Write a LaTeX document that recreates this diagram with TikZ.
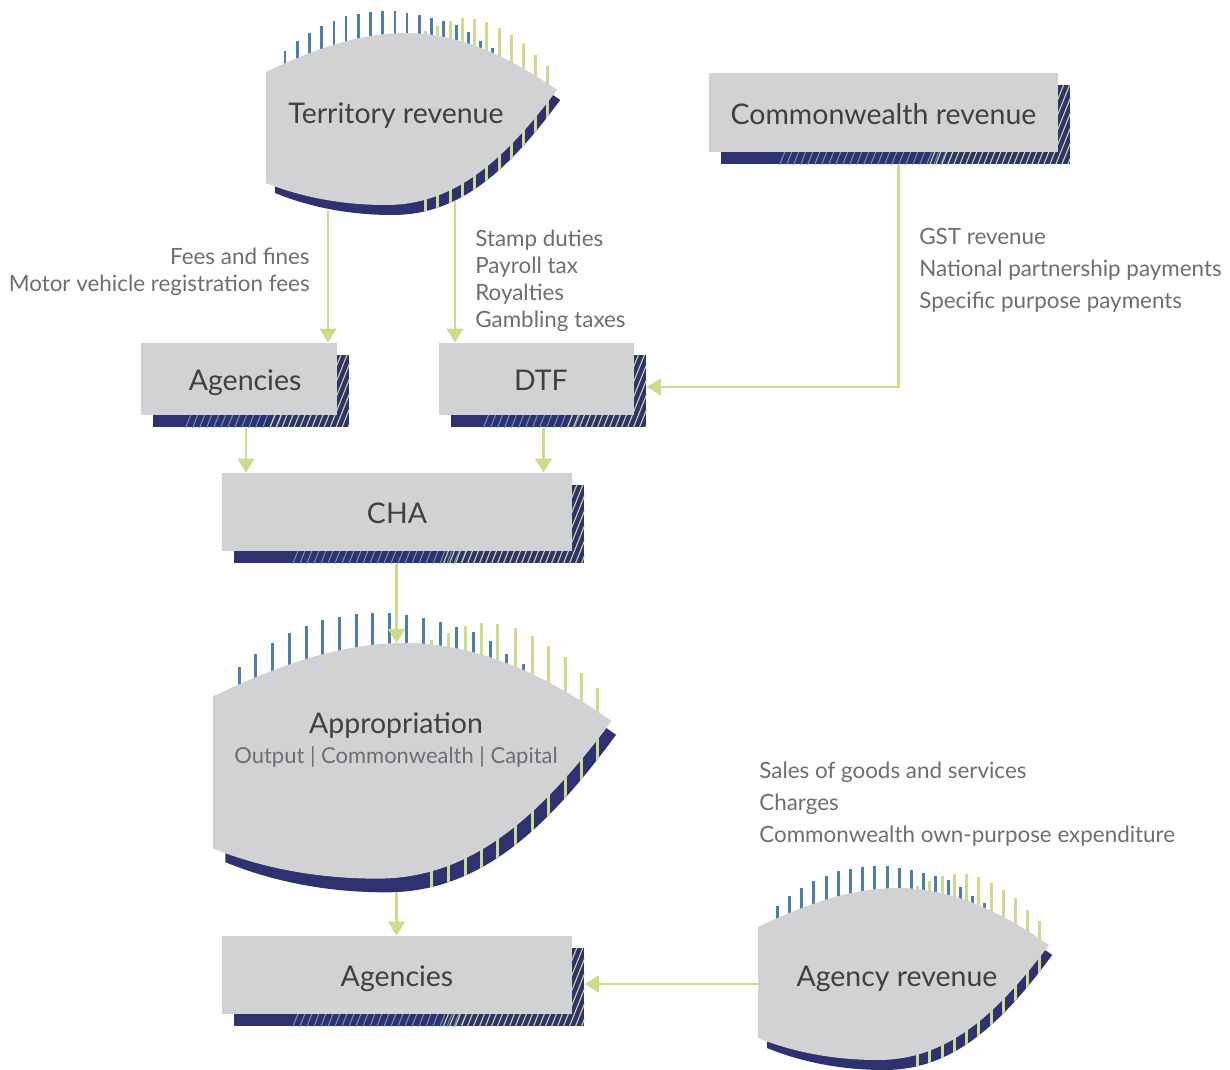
\documentclass[tikz,border=0pt]{standalone}
\usepackage{fontspec}
\setmainfont{Lato}
\usepackage{tikz}
\usetikzlibrary{arrows.meta}
\usetikzlibrary{calc,fit,backgrounds,positioning}

\definecolor{boxgray}{HTML}{D1D2D4}
\definecolor{navy}{HTML}{2F3171}
\definecolor{tickblue}{HTML}{4C7DAE}
\definecolor{tickgreen}{HTML}{C8DE8A}
\definecolor{txtdark}{HTML}{404042}
\definecolor{txtgray}{HTML}{6D6E71}

\newcommand\pxu{0.02cm}
\newcommand\leafpath{(0,39) .. controls (50,15) and (95,0) .. (140,0) .. controls (195,0) and (245,25) .. (291,57) .. controls (240,125) and (190,172) .. (120,172) .. controls (70,172) and (30,162) .. (0,150) -- cycle}
\newcommand\bluetops{19/17.7, 31.3/8, 43.3/-0.3, 55.7/-7, 68/-12.3, 80/-17, 92.3/-19, 104.7/-21, 116.7/-21.7, 129/-21.7, 141/-20.3, 153.3/-18, 165.7/-15.3, 177.7/-12, 190/-8, 202.3/-1.3, 214.3/7.7, 226.7/15.3}
\newcommand\greentops{159.7/-2, 171.7/-7, 184/-12.3, 196/-14.5, 208/-14, 220.7/-10.7, 233/-5, 245/2, 257/10.3, 269/22, 281/33}

% leaf: name, left x, top y, scale
\newcommand\leaf[4]{%
  \begin{scope}[shift={(#2,#3)}, scale=#4]
    \fill[navy, shift={(9,10)}, xscale=0.98] \leafpath;
    \foreach \tx/\ty in \bluetops \draw[tickb] (\tx,\ty) -- (\tx,60);
    \begin{scope}
      \clip[shift={(9,10)}, xscale=0.98] \leafpath;
      \foreach \tx/\ty in \greentops \draw[tickg] (\tx,\ty) -- (\tx,200);
    \end{scope}
    \foreach \tx/\ty in \greentops \draw[tickg] (\tx,\ty) -- (\tx,60);
    \fill[boxgray] \leafpath;
    \coordinate (#1-top) at (134,0);
    \coordinate (#1-l) at (62,178);
    \coordinate (#1-r) at (189,168);
    \coordinate (#1-bot) at (134,182);
    \coordinate (#1-w) at (0,96);
  \end{scope}}

\begin{document}
\begin{tikzpicture}[x=0.02cm, y=-0.02cm,
    box/.style={fill=boxgray, text=txtdark, inner sep=0pt, text height=1.35em, text depth=0pt, font=\fontsize{16.2}{19}\selectfont},
    shbox/.style={fill=navy, inner sep=0pt},
    hatchb/.style={tickblue!85!white, line width=0.6pt},
    hatchg/.style={tickgreen, line width=0.6pt},
    tickb/.style={tickblue, line width=1.7pt},
    tickg/.style={tickgreen, line width=1.7pt},
    leaftxt/.style={text=txtdark, inner sep=0pt, font=\fontsize{16.2}{19}\selectfont},
    lbl/.style={text=txtgray, inner sep=0pt},
    flow/.style={tickgreen, line width=1.4pt, -{Triangle[length=8pt,width=9.5pt]}}]
  \useasboundingbox (0,0) rectangle (1230,1070);

  % leaves
  \leaf{terr}{266}{33}{1}
  \leaf{appr}{213}{643}{1.37}
  \leaf{agrev}{758}{888}{1}

  \node[leaftxt] (terr) at (396,116) {Territory revenue};
  \node[leaftxt] (appr) at (396,726) {Appropriation};
  \node[lbl, font=\fontsize{12.5}{15}\selectfont] (apprsub) at (396,757) {Output | Commonwealth | Capital};
  \node[leaftxt] (agrev) at (897,979) {Agency revenue};

  % boxes
  \node[box, minimum width=349*\pxu, minimum height=79*\pxu] (commrev) at (883.5,112.5) {Commonwealth revenue};
  \node[box, minimum width=196*\pxu, minimum height=72*\pxu] (agtop) at (239,379) {\hspace*{7pt}Agencies};
  \node[box, minimum width=195*\pxu, minimum height=72*\pxu] (dtf) at (536.5,379) {\hspace*{5pt}DTF};
  \node[box, minimum width=350*\pxu, minimum height=78*\pxu] (cha) at (397,512) {CHA};
  \node[box, minimum width=350*\pxu, minimum height=78*\pxu] (agbot) at (397,975) {Agencies};

  % hatched shadows
  \begin{pgfonlayer}{background}
    \foreach \n/\w in {commrev/349, agtop/196, dtf/195, cha/350, agbot/350}{
      \node[shbox, fit={($(\n.north west)+(12,12)$) ($(\n.south east)+(12,12)$)}] (\n-sh) {};
      \begin{scope}
        \clip (\n-sh.south west) rectangle (\n-sh.north east);
        \pgfmathtruncatemacro\nb{0.49*\w/7}
        \foreach \i in {0,...,\nb}
          \draw[hatchb] ($(\n-sh.south west)+(0.17*\w+7*\i,0)$) -- ++(32,-80);
        \pgfmathtruncatemacro\ng{(0.42*\w+12)/6}
        \foreach \i in {0,...,\ng}
          \draw[hatchg] ($(\n-sh.south west)+(0.6*\w+6*\i,0)$) -- ++(32,-80);
      \end{scope}
    }
  \end{pgfonlayer}

  % labels
  \node[lbl, align=right, anchor=north east, font=\fontsize{12.75}{15.3}\selectfont] (fees) at (310,248) {Fees and fines\\Motor vehicle registration fees};
  \node[lbl, align=left, anchor=north west, font=\fontsize{12.75}{15.3}\selectfont] (taxes) at (475,230) {Stamp duties\\Payroll tax\\Royalties\\Gambling taxes};
  \node[lbl, align=left, anchor=north west, font=\fontsize{12.75}{18.1}\selectfont] (gst) at (919,228) {GST revenue\\National partnership payments\\Specific purpose payments};
  \node[lbl, align=left, anchor=north west, font=\fontsize{12.75}{18.1}\selectfont] (sales) at (759,762) {Sales of goods and services\\Charges\\Commonwealth own-purpose expenditure};

  % flows
  \draw[flow] (terr-l) -- (terr-l |- agtop.north);
  \draw[flow] (terr-r) -- (terr-r |- dtf.north);
  \coordinate (c1) at ($(commrev-sh.south)+(3,0)$);
  \coordinate (c2) at ($(dtf-sh.east)+(0,-4)$);
  \draw[flow] (c1) |- (c2);
  \coordinate (a1) at ($(agtop-sh.south)+(-5,0)$);
  \coordinate (a2) at ($(dtf-sh.south)+(-5,0)$);
  \draw[flow] (a1) -- (a1 |- cha.north);
  \draw[flow] (a2) -- (a2 |- cha.north);
  \draw[flow] (cha-sh.south -| appr-top) -- (appr-top);
  \draw[flow] (appr-bot) -- (appr-bot |- agbot.north);
  \draw[flow] (agrev-w) -- (agrev-w -| agbot-sh.east);
\end{tikzpicture}
\end{document}
